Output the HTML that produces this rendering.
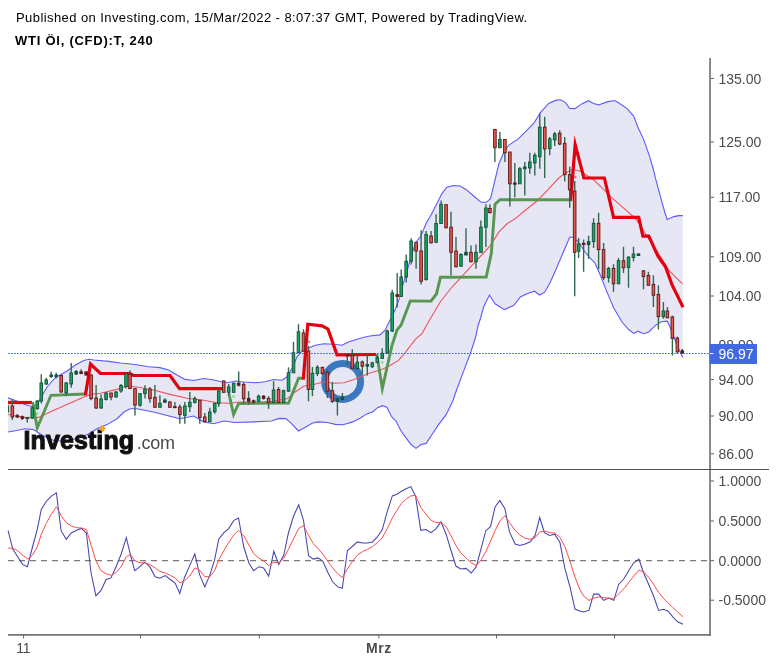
<!DOCTYPE html>
<html><head><meta charset="utf-8"><title>WTI Öl chart</title>
<style>
html,body{margin:0;padding:0;background:#fff}
body{width:776px;height:663px;position:relative;overflow:hidden;font-family:"Liberation Sans",Arial,sans-serif}
.t1{position:absolute;left:16px;top:10px;font-size:13px;line-height:15px;color:#000;white-space:nowrap;letter-spacing:0.42px}
.t2{position:absolute;left:15px;top:33px;font-size:13px;line-height:15px;color:#000;font-weight:bold;white-space:nowrap;letter-spacing:0.75px}
.logo{position:absolute;left:23.5px;top:425px;white-space:nowrap;line-height:30px;color:#111}
.logo b{font-size:25px;letter-spacing:0.1px;font-weight:bold;-webkit-text-stroke:1.05px #111}
.logo span{font-size:18px;color:#4a4a4a;letter-spacing:-0.25px;margin-left:2.5px}
.dot{position:absolute;left:99.5px;top:426px;width:4.6px;height:4.6px;background:#f7a21b;transform:rotate(30deg)}
</style></head><body>
<svg width="776" height="663" viewBox="0 0 776 663" style="position:absolute;left:0;top:0">
<defs><clipPath id="cm"><rect x="8" y="57" width="702" height="412"/></clipPath></defs>
<g clip-path="url(#cm)">
<polygon points="8.0,397.8 16.8,401.0 25.0,404.5 32.7,406.7 37.2,404.5 41.9,396.0 47.0,387.0 55.3,377.7 67.0,371.0 75.4,365.0 83.8,360.4 88.8,359.3 93.8,360.0 108.9,361.4 120.6,363.0 128.4,363.8 136.7,364.8 148.5,366.8 160.0,367.6 168.6,370.0 177.0,375.0 185.0,379.4 193.7,380.5 203.8,378.5 213.8,380.0 220.5,381.5 227.0,382.7 235.6,381.0 243.0,382.0 256.7,382.8 265.0,381.7 273.5,379.5 281.9,380.3 286.9,377.0 292.0,368.6 297.0,356.9 302.0,351.0 307.0,348.5 315.4,345.2 323.8,343.8 333.8,344.3 342.0,345.2 348.9,341.8 357.3,339.3 363.0,337.5 370.0,336.0 380.0,334.9 385.0,330.2 390.0,320.2 395.0,310.0 399.4,298.4 401.7,288.8 406.8,272.0 411.8,253.7 416.0,242.0 421.0,236.0 426.0,223.5 431.0,215.0 436.9,203.6 441.9,193.6 446.9,187.2 453.6,185.5 460.3,186.0 467.0,190.2 473.7,196.0 481.2,202.3 486.3,202.3 490.5,198.6 493.8,185.2 498.8,164.0 503.7,152.8 508.5,145.3 518.6,138.6 527.0,130.2 533.7,123.5 540.4,112.6 548.7,103.4 555.4,100.4 560.5,99.7 565.5,102.6 569.7,108.4 575.0,108.6 581.7,103.9 588.4,100.7 593.5,103.6 598.5,104.9 606.9,101.9 614.4,100.5 618.6,102.7 627.0,108.6 633.7,116.1 637.8,127.0 643.7,139.6 649.6,156.3 653.8,171.0 655.5,178.4 660.5,196.9 664.7,212.0 667.2,219.5 673.9,216.6 678.9,215.6 682.8,215.6 682.8,357.5 678.9,349.6 673.9,337.0 669.7,326.2 667.2,321.2 661.3,321.7 655.5,325.4 648.8,332.0 643.7,333.7 637.9,331.2 633.7,333.4 628.7,329.5 622.0,322.0 613.6,307.8 606.9,291.9 601.0,276.8 595.0,263.0 590.0,258.0 585.0,252.0 578.4,242.0 573.0,237.3 569.7,237.3 563.8,251.0 557.0,267.0 550.4,282.0 544.5,292.4 539.5,295.0 534.5,291.2 527.0,293.7 520.3,297.0 513.6,305.5 504.3,309.6 495.0,303.8 489.5,295.0 486.0,302.0 483.4,307.5 480.6,318.0 478.0,326.0 475.6,337.0 470.6,352.8 463.9,370.4 457.0,388.8 453.0,400.5 446.3,414.4 438.7,424.4 432.0,434.5 426.2,443.4 421.0,444.5 416.0,448.4 411.0,444.5 406.0,437.8 401.0,431.0 396.0,421.0 391.8,416.9 386.8,407.2 382.6,405.7 377.6,407.7 372.6,411.9 366.7,413.9 360.4,418.0 352.7,421.9 343.0,424.8 335.3,424.4 327.5,422.5 317.8,421.9 312.0,423.3 306.2,426.8 298.5,431.0 290.8,422.9 286.0,418.6 279.2,418.4 271.4,421.0 254.0,421.9 234.7,422.5 223.9,421.0 213.8,423.8 203.8,422.0 193.7,416.0 180.0,418.7 170.0,416.2 153.5,412.0 136.7,408.7 130.0,408.7 124.0,412.0 117.0,418.7 107.0,424.6 97.0,428.8 88.0,434.2 78.0,438.0 70.0,440.2 62.0,441.0 55.0,440.8 48.6,438.8 40.0,433.8 33.5,429.6 25.0,428.8 16.8,430.5 8.0,432.0" fill="#e6e6f4"/>
<circle cx="342.6" cy="381.4" r="18" fill="none" stroke="#3b78bf" stroke-width="7"/>
<polyline points="8.0,397.8 16.8,401.0 25.0,404.5 32.7,406.7 37.2,404.5 41.9,396.0 47.0,387.0 55.3,377.7 67.0,371.0 75.4,365.0 83.8,360.4 88.8,359.3 93.8,360.0 108.9,361.4 120.6,363.0 128.4,363.8 136.7,364.8 148.5,366.8 160.0,367.6 168.6,370.0 177.0,375.0 185.0,379.4 193.7,380.5 203.8,378.5 213.8,380.0 220.5,381.5 227.0,382.7 235.6,381.0 243.0,382.0 256.7,382.8 265.0,381.7 273.5,379.5 281.9,380.3 286.9,377.0 292.0,368.6 297.0,356.9 302.0,351.0 307.0,348.5 315.4,345.2 323.8,343.8 333.8,344.3 342.0,345.2 348.9,341.8 357.3,339.3 363.0,337.5 370.0,336.0 380.0,334.9 385.0,330.2 390.0,320.2 395.0,310.0 399.4,298.4 401.7,288.8 406.8,272.0 411.8,253.7 416.0,242.0 421.0,236.0 426.0,223.5 431.0,215.0 436.9,203.6 441.9,193.6 446.9,187.2 453.6,185.5 460.3,186.0 467.0,190.2 473.7,196.0 481.2,202.3 486.3,202.3 490.5,198.6 493.8,185.2 498.8,164.0 503.7,152.8 508.5,145.3 518.6,138.6 527.0,130.2 533.7,123.5 540.4,112.6 548.7,103.4 555.4,100.4 560.5,99.7 565.5,102.6 569.7,108.4 575.0,108.6 581.7,103.9 588.4,100.7 593.5,103.6 598.5,104.9 606.9,101.9 614.4,100.5 618.6,102.7 627.0,108.6 633.7,116.1 637.8,127.0 643.7,139.6 649.6,156.3 653.8,171.0 655.5,178.4 660.5,196.9 664.7,212.0 667.2,219.5 673.9,216.6 678.9,215.6 682.8,215.6" fill="none" stroke="#5a5aff" stroke-width="1.1"/>
<polyline points="8.0,432.0 16.8,430.5 25.0,428.8 33.5,429.6 40.0,433.8 48.6,438.8 55.0,440.8 62.0,441.0 70.0,440.2 78.0,438.0 88.0,434.2 97.0,428.8 107.0,424.6 117.0,418.7 124.0,412.0 130.0,408.7 136.7,408.7 153.5,412.0 170.0,416.2 180.0,418.7 193.7,416.0 203.8,422.0 213.8,423.8 223.9,421.0 234.7,422.5 254.0,421.9 271.4,421.0 279.2,418.4 286.0,418.6 290.8,422.9 298.5,431.0 306.2,426.8 312.0,423.3 317.8,421.9 327.5,422.5 335.3,424.4 343.0,424.8 352.7,421.9 360.4,418.0 366.7,413.9 372.6,411.9 377.6,407.7 382.6,405.7 386.8,407.2 391.8,416.9 396.0,421.0 401.0,431.0 406.0,437.8 411.0,444.5 416.0,448.4 421.0,444.5 426.2,443.4 432.0,434.5 438.7,424.4 446.3,414.4 453.0,400.5 457.0,388.8 463.9,370.4 470.6,352.8 475.6,337.0 478.0,326.0 480.6,318.0 483.4,307.5 486.0,302.0 489.5,295.0 495.0,303.8 504.3,309.6 513.6,305.5 520.3,297.0 527.0,293.7 534.5,291.2 539.5,295.0 544.5,292.4 550.4,282.0 557.0,267.0 563.8,251.0 569.7,237.3 573.0,237.3 578.4,242.0 585.0,252.0 590.0,258.0 595.0,263.0 601.0,276.8 606.9,291.9 613.6,307.8 622.0,322.0 628.7,329.5 633.7,333.4 637.9,331.2 643.7,333.7 648.8,332.0 655.5,325.4 661.3,321.7 667.2,321.2 669.7,326.2 673.9,337.0 678.9,349.6 682.8,357.5" fill="none" stroke="#5a5aff" stroke-width="1.1"/>
<polyline points="8.0,414.5 16.8,416.2 25.0,417.4 33.5,418.0 38.5,417.4 50.0,412.0 67.0,404.5 83.8,397.0 91.0,394.4 100.5,393.3 117.0,389.4 128.0,386.0 136.7,387.0 153.5,390.0 170.0,394.4 187.0,398.3 203.8,400.3 217.0,402.8 229.0,403.3 240.0,402.0 256.7,402.4 273.5,401.3 287.0,398.8 295.0,392.0 303.6,386.2 313.7,384.5 323.8,382.0 333.8,383.3 343.9,382.8 354.0,379.5 360.0,377.0 370.0,373.0 381.8,369.6 390.0,365.4 398.5,360.4 405.0,352.8 415.3,339.4 422.0,333.6 430.0,319.3 440.4,301.7 452.0,287.0 462.0,276.3 472.0,265.4 482.2,254.5 490.5,245.3 499.0,231.9 507.3,223.5 515.0,218.8 525.0,210.5 537.0,201.0 548.7,188.8 558.8,178.0 565.5,173.0 572.2,169.6 575.0,170.0 580.6,171.2 585.0,174.2 593.5,179.8 603.6,189.3 613.6,199.4 623.7,208.2 633.7,217.0 638.7,222.8 645.4,233.7 657.0,251.0 668.9,270.4 682.3,283.8" fill="none" stroke="#ee5560" stroke-width="1.1"/>
<line x1="8" y1="353.5" x2="710" y2="353.5" stroke="#4169e1" stroke-width="1.1" stroke-dasharray="1.7,1.3"/>
<polyline points="8.0,402.5 32.0,402.5" fill="none" stroke="#e4000f" stroke-width="3.2" stroke-linejoin="miter" stroke-miterlimit="12"/>
<polyline points="32.7,402.0 37.2,428.0 51.0,395.3 85.4,394.0" fill="none" stroke="#57974f" stroke-width="2.9" stroke-linejoin="miter" stroke-miterlimit="12"/>
<polyline points="85.4,395.3 90.5,364.0 100.5,373.5 130.0,373.5 133.4,375.5 170.0,375.5 179.5,388.6 223.5,388.6" fill="none" stroke="#e4000f" stroke-width="3.2" stroke-linejoin="miter" stroke-miterlimit="12"/>
<polyline points="228.9,393.6 233.6,414.5 238.6,403.6 288.6,403.0 298.6,378.3 303.6,378.3" fill="none" stroke="#57974f" stroke-width="2.9" stroke-linejoin="miter" stroke-miterlimit="12"/>
<polyline points="303.3,379.5 307.8,324.2 322.0,325.9 328.0,329.2 337.0,354.9 376.0,354.5" fill="none" stroke="#e4000f" stroke-width="3.2" stroke-linejoin="miter" stroke-miterlimit="12"/>
<polyline points="376.8,354.5 382.3,388.5 391.8,346.1 396.9,330.2 401.0,325.2 410.3,301.0 431.0,301.1 436.4,294.0 440.5,277.2 486.2,277.1 491.3,253.5 495.0,204.3 500.0,199.7 569.5,199.7" fill="none" stroke="#57974f" stroke-width="2.9" stroke-linejoin="miter" stroke-miterlimit="12"/>
<polyline points="570.6,201.0 575.2,144.8 583.9,178.0 604.4,178.0 613.6,217.3 638.7,217.3 642.9,236.2 648.8,236.2 658.0,256.3 665.5,266.7 672.2,285.2 678.0,296.9 683.0,307.3" fill="none" stroke="#e4000f" stroke-width="3.2" stroke-linejoin="miter" stroke-miterlimit="12"/>
<rect x="36.0" y="412.4" width="2.4" height="2.4" fill="#7fe38a"/>
<rect x="232.4" y="395.2" width="2.4" height="2.4" fill="#7fe38a"/>
<rect x="381.1" y="361.3" width="2.4" height="2.4" fill="#7fe38a"/>
<circle cx="575.2" cy="177.0" r="1.3" fill="#f06a6a"/>
<circle cx="308.9" cy="341.8" r="1.3" fill="#f06a6a"/>
<line x1="7.4" y1="404.0" x2="7.4" y2="414.0" stroke="#33684f" stroke-width="1.4"/>
<rect x="6.06" y="406.0" width="2.6" height="6.0" fill="#16a562" stroke="#15543a" stroke-width="0.95"/>
<line x1="12.3" y1="399.5" x2="12.3" y2="420.0" stroke="#33684f" stroke-width="1.4"/>
<rect x="11.05" y="406.0" width="2.6" height="11.0" fill="#e8594f" stroke="#5e1a1a" stroke-width="0.95"/>
<line x1="17.3" y1="414.0" x2="17.3" y2="418.0" stroke="#33684f" stroke-width="1.4"/>
<rect x="16.04" y="415.7" width="2.6" height="1.3" fill="#5e1a1a" stroke="#5e1a1a" stroke-width="0.95"/>
<line x1="22.3" y1="415.4" x2="22.3" y2="420.0" stroke="#33684f" stroke-width="1.4"/>
<rect x="21.02" y="416.7" width="2.6" height="1.7" fill="#5e1a1a" stroke="#5e1a1a" stroke-width="0.95"/>
<line x1="27.3" y1="417.0" x2="27.3" y2="422.4" stroke="#33684f" stroke-width="1.4"/>
<rect x="26.00" y="417.4" width="2.6" height="1.0" fill="#15543a" stroke="#15543a" stroke-width="0.95"/>
<line x1="32.3" y1="406.0" x2="32.3" y2="418.7" stroke="#33684f" stroke-width="1.4"/>
<rect x="30.99" y="407.8" width="2.6" height="10.1" fill="#16a562" stroke="#15543a" stroke-width="0.95"/>
<line x1="37.3" y1="400.3" x2="37.3" y2="409.5" stroke="#33684f" stroke-width="1.4"/>
<rect x="35.98" y="401.0" width="2.6" height="7.7" fill="#16a562" stroke="#15543a" stroke-width="0.95"/>
<line x1="41.3" y1="374.3" x2="41.3" y2="403.6" stroke="#33684f" stroke-width="1.4"/>
<rect x="39.96" y="383.0" width="2.6" height="18.0" fill="#16a562" stroke="#15543a" stroke-width="0.95"/>
<line x1="46.2" y1="377.7" x2="46.2" y2="385.0" stroke="#33684f" stroke-width="1.4"/>
<rect x="44.95" y="380.0" width="2.6" height="4.0" fill="#16a562" stroke="#15543a" stroke-width="0.95"/>
<line x1="51.2" y1="371.8" x2="51.2" y2="378.0" stroke="#33684f" stroke-width="1.4"/>
<rect x="49.93" y="375.0" width="2.6" height="1.5" fill="#15543a" stroke="#15543a" stroke-width="0.95"/>
<line x1="56.2" y1="372.7" x2="56.2" y2="378.5" stroke="#33684f" stroke-width="1.4"/>
<rect x="54.92" y="375.0" width="2.6" height="1.5" fill="#15543a" stroke="#15543a" stroke-width="0.95"/>
<line x1="61.2" y1="375.0" x2="61.2" y2="392.8" stroke="#33684f" stroke-width="1.4"/>
<rect x="59.90" y="375.5" width="2.6" height="16.5" fill="#e8594f" stroke="#5e1a1a" stroke-width="0.95"/>
<line x1="66.2" y1="381.9" x2="66.2" y2="396.0" stroke="#33684f" stroke-width="1.4"/>
<rect x="64.89" y="383.0" width="2.6" height="9.8" fill="#16a562" stroke="#15543a" stroke-width="0.95"/>
<line x1="71.2" y1="363.0" x2="71.2" y2="387.7" stroke="#33684f" stroke-width="1.4"/>
<rect x="69.87" y="373.0" width="2.6" height="11.0" fill="#16a562" stroke="#15543a" stroke-width="0.95"/>
<line x1="76.2" y1="370.0" x2="76.2" y2="375.0" stroke="#33684f" stroke-width="1.4"/>
<rect x="74.86" y="371.5" width="2.6" height="2.5" fill="#15543a" stroke="#15543a" stroke-width="0.95"/>
<line x1="81.1" y1="369.3" x2="81.1" y2="374.3" stroke="#33684f" stroke-width="1.4"/>
<rect x="79.84" y="371.8" width="2.6" height="1.7" fill="#5e1a1a" stroke="#5e1a1a" stroke-width="0.95"/>
<line x1="86.1" y1="371.0" x2="86.1" y2="375.5" stroke="#33684f" stroke-width="1.4"/>
<rect x="84.83" y="372.0" width="2.6" height="3.0" fill="#5e1a1a" stroke="#5e1a1a" stroke-width="0.95"/>
<line x1="91.1" y1="374.3" x2="91.1" y2="400.3" stroke="#33684f" stroke-width="1.4"/>
<rect x="89.81" y="375.0" width="2.6" height="23.6" fill="#e8594f" stroke="#5e1a1a" stroke-width="0.95"/>
<line x1="96.1" y1="385.0" x2="96.1" y2="409.0" stroke="#33684f" stroke-width="1.4"/>
<rect x="94.80" y="398.0" width="2.6" height="10.0" fill="#e8594f" stroke="#5e1a1a" stroke-width="0.95"/>
<line x1="101.1" y1="394.4" x2="101.1" y2="408.7" stroke="#33684f" stroke-width="1.4"/>
<rect x="99.78" y="399.0" width="2.6" height="9.0" fill="#16a562" stroke="#15543a" stroke-width="0.95"/>
<line x1="106.1" y1="392.3" x2="106.1" y2="400.6" stroke="#33684f" stroke-width="1.4"/>
<rect x="104.77" y="393.0" width="2.6" height="6.5" fill="#16a562" stroke="#15543a" stroke-width="0.95"/>
<line x1="111.1" y1="392.8" x2="111.1" y2="400.3" stroke="#33684f" stroke-width="1.4"/>
<rect x="109.75" y="393.0" width="2.6" height="4.0" fill="#e8594f" stroke="#5e1a1a" stroke-width="0.95"/>
<line x1="116.0" y1="391.0" x2="116.0" y2="397.8" stroke="#33684f" stroke-width="1.4"/>
<rect x="114.74" y="392.0" width="2.6" height="5.0" fill="#16a562" stroke="#15543a" stroke-width="0.95"/>
<line x1="121.0" y1="384.0" x2="121.0" y2="392.8" stroke="#33684f" stroke-width="1.4"/>
<rect x="119.72" y="385.5" width="2.6" height="5.5" fill="#16a562" stroke="#15543a" stroke-width="0.95"/>
<line x1="126.0" y1="372.7" x2="126.0" y2="388.6" stroke="#33684f" stroke-width="1.4"/>
<rect x="124.71" y="373.5" width="2.6" height="13.0" fill="#16a562" stroke="#15543a" stroke-width="0.95"/>
<line x1="130.0" y1="370.5" x2="130.0" y2="389.0" stroke="#33684f" stroke-width="1.4"/>
<rect x="128.70" y="374.3" width="2.6" height="14.3" fill="#e8594f" stroke="#5e1a1a" stroke-width="0.95"/>
<line x1="135.0" y1="388.0" x2="135.0" y2="415.4" stroke="#33684f" stroke-width="1.4"/>
<rect x="133.68" y="388.6" width="2.6" height="16.4" fill="#e8594f" stroke="#5e1a1a" stroke-width="0.95"/>
<line x1="140.0" y1="393.3" x2="140.0" y2="406.7" stroke="#33684f" stroke-width="1.4"/>
<rect x="138.67" y="393.6" width="2.6" height="11.7" fill="#16a562" stroke="#15543a" stroke-width="0.95"/>
<line x1="145.0" y1="385.2" x2="145.0" y2="398.6" stroke="#33684f" stroke-width="1.4"/>
<rect x="143.65" y="389.4" width="2.6" height="4.2" fill="#16a562" stroke="#15543a" stroke-width="0.95"/>
<line x1="149.9" y1="387.0" x2="149.9" y2="402.8" stroke="#33684f" stroke-width="1.4"/>
<rect x="148.64" y="389.0" width="2.6" height="9.6" fill="#e8594f" stroke="#5e1a1a" stroke-width="0.95"/>
<line x1="154.9" y1="385.0" x2="154.9" y2="407.3" stroke="#33684f" stroke-width="1.4"/>
<rect x="153.62" y="397.3" width="2.6" height="10.0" fill="#e8594f" stroke="#5e1a1a" stroke-width="0.95"/>
<line x1="159.9" y1="395.3" x2="159.9" y2="407.3" stroke="#33684f" stroke-width="1.4"/>
<rect x="158.61" y="403.3" width="2.6" height="4.0" fill="#16a562" stroke="#15543a" stroke-width="0.95"/>
<line x1="164.9" y1="398.3" x2="164.9" y2="402.8" stroke="#33684f" stroke-width="1.4"/>
<rect x="163.59" y="400.0" width="2.6" height="2.3" fill="#15543a" stroke="#15543a" stroke-width="0.95"/>
<line x1="169.9" y1="401.0" x2="169.9" y2="407.3" stroke="#33684f" stroke-width="1.4"/>
<rect x="168.58" y="402.0" width="2.6" height="5.3" fill="#e8594f" stroke="#5e1a1a" stroke-width="0.95"/>
<line x1="174.9" y1="402.0" x2="174.9" y2="407.7" stroke="#33684f" stroke-width="1.4"/>
<rect x="173.56" y="406.7" width="2.6" height="1.0" fill="#5e1a1a" stroke="#5e1a1a" stroke-width="0.95"/>
<line x1="179.8" y1="404.5" x2="179.8" y2="423.8" stroke="#33684f" stroke-width="1.4"/>
<rect x="178.55" y="407.0" width="2.6" height="7.5" fill="#e8594f" stroke="#5e1a1a" stroke-width="0.95"/>
<line x1="184.8" y1="402.0" x2="184.8" y2="423.8" stroke="#33684f" stroke-width="1.4"/>
<rect x="183.53" y="406.0" width="2.6" height="9.4" fill="#16a562" stroke="#15543a" stroke-width="0.95"/>
<line x1="189.8" y1="392.0" x2="189.8" y2="412.0" stroke="#33684f" stroke-width="1.4"/>
<rect x="188.52" y="402.3" width="2.6" height="4.4" fill="#16a562" stroke="#15543a" stroke-width="0.95"/>
<line x1="194.8" y1="396.6" x2="194.8" y2="403.6" stroke="#33684f" stroke-width="1.4"/>
<rect x="193.50" y="398.6" width="2.6" height="3.7" fill="#16a562" stroke="#15543a" stroke-width="0.95"/>
<line x1="199.8" y1="399.5" x2="199.8" y2="423.8" stroke="#33684f" stroke-width="1.4"/>
<rect x="198.49" y="400.3" width="2.6" height="17.1" fill="#e8594f" stroke="#5e1a1a" stroke-width="0.95"/>
<line x1="204.8" y1="412.9" x2="204.8" y2="421.7" stroke="#33684f" stroke-width="1.4"/>
<rect x="203.47" y="417.0" width="2.6" height="4.7" fill="#e8594f" stroke="#5e1a1a" stroke-width="0.95"/>
<line x1="209.8" y1="407.8" x2="209.8" y2="421.7" stroke="#33684f" stroke-width="1.4"/>
<rect x="208.46" y="412.0" width="2.6" height="9.7" fill="#16a562" stroke="#15543a" stroke-width="0.95"/>
<line x1="214.7" y1="402.8" x2="214.7" y2="413.7" stroke="#33684f" stroke-width="1.4"/>
<rect x="213.44" y="403.3" width="2.6" height="8.4" fill="#16a562" stroke="#15543a" stroke-width="0.95"/>
<line x1="218.7" y1="389.4" x2="218.7" y2="407.0" stroke="#33684f" stroke-width="1.4"/>
<rect x="217.43" y="391.0" width="2.6" height="12.7" fill="#16a562" stroke="#15543a" stroke-width="0.95"/>
<line x1="223.7" y1="380.2" x2="223.7" y2="392.8" stroke="#33684f" stroke-width="1.4"/>
<rect x="222.41" y="381.0" width="2.6" height="11.3" fill="#e8594f" stroke="#5e1a1a" stroke-width="0.95"/>
<line x1="228.7" y1="383.9" x2="228.7" y2="395.3" stroke="#33684f" stroke-width="1.4"/>
<rect x="227.40" y="387.0" width="2.6" height="5.3" fill="#16a562" stroke="#15543a" stroke-width="0.95"/>
<line x1="233.7" y1="382.7" x2="233.7" y2="392.8" stroke="#33684f" stroke-width="1.4"/>
<rect x="232.38" y="383.2" width="2.6" height="9.1" fill="#16a562" stroke="#15543a" stroke-width="0.95"/>
<line x1="238.7" y1="371.5" x2="238.7" y2="386.6" stroke="#33684f" stroke-width="1.4"/>
<rect x="237.37" y="383.2" width="2.6" height="2.0" fill="#5e1a1a" stroke="#5e1a1a" stroke-width="0.95"/>
<line x1="243.7" y1="382.0" x2="243.7" y2="403.8" stroke="#33684f" stroke-width="1.4"/>
<rect x="242.35" y="384.5" width="2.6" height="14.3" fill="#e8594f" stroke="#5e1a1a" stroke-width="0.95"/>
<line x1="248.6" y1="391.2" x2="248.6" y2="404.6" stroke="#33684f" stroke-width="1.4"/>
<rect x="247.34" y="398.4" width="2.6" height="2.9" fill="#5e1a1a" stroke="#5e1a1a" stroke-width="0.95"/>
<line x1="253.6" y1="399.6" x2="253.6" y2="403.8" stroke="#33684f" stroke-width="1.4"/>
<rect x="252.32" y="400.8" width="2.6" height="1.2" fill="#5e1a1a" stroke="#5e1a1a" stroke-width="0.95"/>
<line x1="258.6" y1="394.6" x2="258.6" y2="402.0" stroke="#33684f" stroke-width="1.4"/>
<rect x="257.31" y="396.2" width="2.6" height="5.1" fill="#16a562" stroke="#15543a" stroke-width="0.95"/>
<line x1="263.6" y1="395.0" x2="263.6" y2="399.6" stroke="#33684f" stroke-width="1.4"/>
<rect x="262.29" y="396.2" width="2.6" height="2.2" fill="#5e1a1a" stroke="#5e1a1a" stroke-width="0.95"/>
<line x1="268.6" y1="396.2" x2="268.6" y2="408.8" stroke="#33684f" stroke-width="1.4"/>
<rect x="267.28" y="398.4" width="2.6" height="4.0" fill="#e8594f" stroke="#5e1a1a" stroke-width="0.95"/>
<line x1="273.6" y1="381.2" x2="273.6" y2="403.0" stroke="#33684f" stroke-width="1.4"/>
<rect x="272.26" y="390.0" width="2.6" height="12.4" fill="#16a562" stroke="#15543a" stroke-width="0.95"/>
<line x1="278.5" y1="387.0" x2="278.5" y2="403.0" stroke="#33684f" stroke-width="1.4"/>
<rect x="277.25" y="389.5" width="2.6" height="12.9" fill="#e8594f" stroke="#5e1a1a" stroke-width="0.95"/>
<line x1="283.5" y1="389.5" x2="283.5" y2="402.4" stroke="#33684f" stroke-width="1.4"/>
<rect x="282.23" y="390.7" width="2.6" height="11.7" fill="#16a562" stroke="#15543a" stroke-width="0.95"/>
<line x1="288.5" y1="367.3" x2="288.5" y2="392.0" stroke="#33684f" stroke-width="1.4"/>
<rect x="287.22" y="372.8" width="2.6" height="18.4" fill="#16a562" stroke="#15543a" stroke-width="0.95"/>
<line x1="293.5" y1="341.8" x2="293.5" y2="372.8" stroke="#33684f" stroke-width="1.4"/>
<rect x="292.20" y="352.7" width="2.6" height="20.1" fill="#16a562" stroke="#15543a" stroke-width="0.95"/>
<line x1="298.5" y1="324.2" x2="298.5" y2="352.7" stroke="#33684f" stroke-width="1.4"/>
<rect x="297.19" y="331.8" width="2.6" height="20.9" fill="#16a562" stroke="#15543a" stroke-width="0.95"/>
<line x1="303.5" y1="329.2" x2="303.5" y2="351.9" stroke="#33684f" stroke-width="1.4"/>
<rect x="302.17" y="333.0" width="2.6" height="18.0" fill="#e8594f" stroke="#5e1a1a" stroke-width="0.95"/>
<line x1="308.5" y1="346.0" x2="308.5" y2="401.3" stroke="#33684f" stroke-width="1.4"/>
<rect x="307.16" y="351.0" width="2.6" height="38.5" fill="#e8594f" stroke="#5e1a1a" stroke-width="0.95"/>
<line x1="312.4" y1="367.0" x2="312.4" y2="396.2" stroke="#33684f" stroke-width="1.4"/>
<rect x="311.15" y="373.3" width="2.6" height="16.2" fill="#16a562" stroke="#15543a" stroke-width="0.95"/>
<line x1="317.4" y1="365.3" x2="317.4" y2="376.1" stroke="#33684f" stroke-width="1.4"/>
<rect x="316.13" y="367.3" width="2.6" height="6.3" fill="#16a562" stroke="#15543a" stroke-width="0.95"/>
<line x1="322.4" y1="367.0" x2="322.4" y2="375.3" stroke="#33684f" stroke-width="1.4"/>
<rect x="321.12" y="367.3" width="2.6" height="6.3" fill="#e8594f" stroke="#5e1a1a" stroke-width="0.95"/>
<line x1="327.4" y1="369.4" x2="327.4" y2="398.0" stroke="#33684f" stroke-width="1.4"/>
<rect x="326.10" y="372.3" width="2.6" height="18.9" fill="#e8594f" stroke="#5e1a1a" stroke-width="0.95"/>
<line x1="332.4" y1="382.0" x2="332.4" y2="403.0" stroke="#33684f" stroke-width="1.4"/>
<rect x="331.09" y="390.7" width="2.6" height="10.6" fill="#e8594f" stroke="#5e1a1a" stroke-width="0.95"/>
<line x1="337.4" y1="397.0" x2="337.4" y2="415.5" stroke="#33684f" stroke-width="1.4"/>
<rect x="336.07" y="398.8" width="2.6" height="2.5" fill="#15543a" stroke="#15543a" stroke-width="0.95"/>
<line x1="342.4" y1="393.0" x2="342.4" y2="400.4" stroke="#33684f" stroke-width="1.4"/>
<rect x="341.06" y="397.0" width="2.6" height="2.6" fill="#15543a" stroke="#15543a" stroke-width="0.95"/>
<line x1="347.3" y1="353.9" x2="347.3" y2="365.3" stroke="#33684f" stroke-width="1.4"/>
<rect x="346.04" y="354.9" width="2.6" height="1.1" fill="#5e1a1a" stroke="#5e1a1a" stroke-width="0.95"/>
<line x1="352.3" y1="349.3" x2="352.3" y2="368.6" stroke="#33684f" stroke-width="1.4"/>
<rect x="351.03" y="355.2" width="2.6" height="13.1" fill="#e8594f" stroke="#5e1a1a" stroke-width="0.95"/>
<line x1="357.3" y1="355.2" x2="357.3" y2="370.3" stroke="#33684f" stroke-width="1.4"/>
<rect x="356.01" y="362.2" width="2.6" height="6.4" fill="#16a562" stroke="#15543a" stroke-width="0.95"/>
<line x1="362.3" y1="360.4" x2="362.3" y2="374.6" stroke="#33684f" stroke-width="1.4"/>
<rect x="361.00" y="362.0" width="2.6" height="4.2" fill="#e8594f" stroke="#5e1a1a" stroke-width="0.95"/>
<line x1="367.3" y1="354.5" x2="367.3" y2="375.4" stroke="#33684f" stroke-width="1.4"/>
<rect x="365.98" y="364.5" width="2.6" height="1.7" fill="#15543a" stroke="#15543a" stroke-width="0.95"/>
<line x1="372.3" y1="361.7" x2="372.3" y2="367.9" stroke="#33684f" stroke-width="1.4"/>
<rect x="370.97" y="362.9" width="2.6" height="3.8" fill="#16a562" stroke="#15543a" stroke-width="0.95"/>
<line x1="377.3" y1="353.7" x2="377.3" y2="362.9" stroke="#33684f" stroke-width="1.4"/>
<rect x="375.95" y="357.8" width="2.6" height="4.6" fill="#16a562" stroke="#15543a" stroke-width="0.95"/>
<line x1="382.2" y1="348.3" x2="382.2" y2="358.7" stroke="#33684f" stroke-width="1.4"/>
<rect x="380.94" y="353.3" width="2.6" height="5.0" fill="#16a562" stroke="#15543a" stroke-width="0.95"/>
<line x1="387.2" y1="329.4" x2="387.2" y2="353.3" stroke="#33684f" stroke-width="1.4"/>
<rect x="385.92" y="331.0" width="2.6" height="22.3" fill="#16a562" stroke="#15543a" stroke-width="0.95"/>
<line x1="392.2" y1="289.7" x2="392.2" y2="331.9" stroke="#33684f" stroke-width="1.4"/>
<rect x="390.91" y="293.0" width="2.6" height="38.0" fill="#16a562" stroke="#15543a" stroke-width="0.95"/>
<line x1="397.2" y1="273.0" x2="397.2" y2="307.6" stroke="#33684f" stroke-width="1.4"/>
<rect x="395.89" y="294.7" width="2.6" height="1.7" fill="#5e1a1a" stroke="#5e1a1a" stroke-width="0.95"/>
<line x1="401.2" y1="269.6" x2="401.2" y2="296.4" stroke="#33684f" stroke-width="1.4"/>
<rect x="399.88" y="277.0" width="2.6" height="19.4" fill="#16a562" stroke="#15543a" stroke-width="0.95"/>
<line x1="406.2" y1="254.5" x2="406.2" y2="282.5" stroke="#33684f" stroke-width="1.4"/>
<rect x="404.87" y="261.2" width="2.6" height="15.8" fill="#16a562" stroke="#15543a" stroke-width="0.95"/>
<line x1="411.2" y1="238.2" x2="411.2" y2="264.5" stroke="#33684f" stroke-width="1.4"/>
<rect x="409.85" y="241.0" width="2.6" height="20.2" fill="#16a562" stroke="#15543a" stroke-width="0.95"/>
<line x1="416.1" y1="242.0" x2="416.1" y2="268.7" stroke="#33684f" stroke-width="1.4"/>
<rect x="414.84" y="242.3" width="2.6" height="8.7" fill="#e8594f" stroke="#5e1a1a" stroke-width="0.95"/>
<line x1="421.1" y1="230.2" x2="421.1" y2="284.6" stroke="#33684f" stroke-width="1.4"/>
<rect x="419.82" y="251.0" width="2.6" height="30.3" fill="#e8594f" stroke="#5e1a1a" stroke-width="0.95"/>
<line x1="426.1" y1="231.0" x2="426.1" y2="280.5" stroke="#33684f" stroke-width="1.4"/>
<rect x="424.81" y="234.4" width="2.6" height="45.2" fill="#16a562" stroke="#15543a" stroke-width="0.95"/>
<line x1="431.1" y1="231.0" x2="431.1" y2="243.6" stroke="#33684f" stroke-width="1.4"/>
<rect x="429.79" y="236.0" width="2.6" height="6.8" fill="#e8594f" stroke="#5e1a1a" stroke-width="0.95"/>
<line x1="436.1" y1="214.3" x2="436.1" y2="242.8" stroke="#33684f" stroke-width="1.4"/>
<rect x="434.78" y="223.5" width="2.6" height="18.8" fill="#16a562" stroke="#15543a" stroke-width="0.95"/>
<line x1="441.1" y1="200.4" x2="441.1" y2="223.5" stroke="#33684f" stroke-width="1.4"/>
<rect x="439.76" y="204.2" width="2.6" height="19.3" fill="#16a562" stroke="#15543a" stroke-width="0.95"/>
<line x1="446.0" y1="204.2" x2="446.0" y2="228.5" stroke="#33684f" stroke-width="1.4"/>
<rect x="444.75" y="204.7" width="2.6" height="23.0" fill="#e8594f" stroke="#5e1a1a" stroke-width="0.95"/>
<line x1="451.0" y1="211.8" x2="451.0" y2="275.4" stroke="#33684f" stroke-width="1.4"/>
<rect x="449.73" y="227.2" width="2.6" height="25.1" fill="#e8594f" stroke="#5e1a1a" stroke-width="0.95"/>
<line x1="456.0" y1="237.0" x2="456.0" y2="267.4" stroke="#33684f" stroke-width="1.4"/>
<rect x="454.72" y="251.0" width="2.6" height="15.7" fill="#e8594f" stroke="#5e1a1a" stroke-width="0.95"/>
<line x1="461.0" y1="253.3" x2="461.0" y2="266.7" stroke="#33684f" stroke-width="1.4"/>
<rect x="459.70" y="254.5" width="2.6" height="11.7" fill="#16a562" stroke="#15543a" stroke-width="0.95"/>
<line x1="466.0" y1="228.2" x2="466.0" y2="255.3" stroke="#33684f" stroke-width="1.4"/>
<rect x="464.69" y="252.3" width="2.6" height="2.7" fill="#15543a" stroke="#15543a" stroke-width="0.95"/>
<line x1="471.0" y1="245.6" x2="471.0" y2="262.4" stroke="#33684f" stroke-width="1.4"/>
<rect x="469.67" y="252.3" width="2.6" height="9.4" fill="#e8594f" stroke="#5e1a1a" stroke-width="0.95"/>
<line x1="476.0" y1="244.4" x2="476.0" y2="268.7" stroke="#33684f" stroke-width="1.4"/>
<rect x="474.66" y="252.3" width="2.6" height="9.4" fill="#16a562" stroke="#15543a" stroke-width="0.95"/>
<line x1="480.9" y1="220.5" x2="480.9" y2="252.8" stroke="#33684f" stroke-width="1.4"/>
<rect x="479.64" y="227.2" width="2.6" height="25.1" fill="#16a562" stroke="#15543a" stroke-width="0.95"/>
<line x1="485.9" y1="204.2" x2="485.9" y2="247.0" stroke="#33684f" stroke-width="1.4"/>
<rect x="484.62" y="208.0" width="2.6" height="19.2" fill="#16a562" stroke="#15543a" stroke-width="0.95"/>
<line x1="489.9" y1="204.2" x2="489.9" y2="213.5" stroke="#33684f" stroke-width="1.4"/>
<rect x="488.61" y="208.4" width="2.6" height="4.2" fill="#e8594f" stroke="#5e1a1a" stroke-width="0.95"/>
<line x1="494.9" y1="129.4" x2="494.9" y2="162.0" stroke="#33684f" stroke-width="1.4"/>
<rect x="493.60" y="129.4" width="2.6" height="18.4" fill="#e8594f" stroke="#5e1a1a" stroke-width="0.95"/>
<line x1="499.9" y1="131.9" x2="499.9" y2="147.8" stroke="#33684f" stroke-width="1.4"/>
<rect x="498.58" y="139.4" width="2.6" height="8.4" fill="#16a562" stroke="#15543a" stroke-width="0.95"/>
<line x1="504.9" y1="139.4" x2="504.9" y2="162.0" stroke="#33684f" stroke-width="1.4"/>
<rect x="503.57" y="139.4" width="2.6" height="13.4" fill="#e8594f" stroke="#5e1a1a" stroke-width="0.95"/>
<line x1="509.9" y1="152.0" x2="509.9" y2="206.6" stroke="#33684f" stroke-width="1.4"/>
<rect x="508.55" y="152.0" width="2.6" height="31.8" fill="#e8594f" stroke="#5e1a1a" stroke-width="0.95"/>
<line x1="514.8" y1="162.9" x2="514.8" y2="197.2" stroke="#33684f" stroke-width="1.4"/>
<rect x="513.54" y="183.0" width="2.6" height="1.2" fill="#5e1a1a" stroke="#5e1a1a" stroke-width="0.95"/>
<line x1="519.8" y1="167.0" x2="519.8" y2="183.8" stroke="#33684f" stroke-width="1.4"/>
<rect x="518.52" y="168.7" width="2.6" height="15.1" fill="#16a562" stroke="#15543a" stroke-width="0.95"/>
<line x1="524.8" y1="162.0" x2="524.8" y2="195.5" stroke="#33684f" stroke-width="1.4"/>
<rect x="523.51" y="167.0" width="2.6" height="1.7" fill="#15543a" stroke="#15543a" stroke-width="0.95"/>
<line x1="529.8" y1="152.8" x2="529.8" y2="173.8" stroke="#33684f" stroke-width="1.4"/>
<rect x="528.49" y="162.0" width="2.6" height="5.9" fill="#16a562" stroke="#15543a" stroke-width="0.95"/>
<line x1="534.8" y1="152.8" x2="534.8" y2="175.4" stroke="#33684f" stroke-width="1.4"/>
<rect x="533.48" y="155.3" width="2.6" height="7.6" fill="#16a562" stroke="#15543a" stroke-width="0.95"/>
<line x1="539.8" y1="113.5" x2="539.8" y2="168.7" stroke="#33684f" stroke-width="1.4"/>
<rect x="538.46" y="127.2" width="2.6" height="29.5" fill="#16a562" stroke="#15543a" stroke-width="0.95"/>
<line x1="544.7" y1="116.8" x2="544.7" y2="178.0" stroke="#33684f" stroke-width="1.4"/>
<rect x="543.45" y="127.2" width="2.6" height="21.8" fill="#e8594f" stroke="#5e1a1a" stroke-width="0.95"/>
<line x1="549.7" y1="136.9" x2="549.7" y2="155.3" stroke="#33684f" stroke-width="1.4"/>
<rect x="548.43" y="138.9" width="2.6" height="9.7" fill="#16a562" stroke="#15543a" stroke-width="0.95"/>
<line x1="554.7" y1="131.9" x2="554.7" y2="146.0" stroke="#33684f" stroke-width="1.4"/>
<rect x="553.42" y="133.9" width="2.6" height="6.0" fill="#16a562" stroke="#15543a" stroke-width="0.95"/>
<line x1="559.7" y1="130.2" x2="559.7" y2="145.3" stroke="#33684f" stroke-width="1.4"/>
<rect x="558.40" y="133.2" width="2.6" height="10.8" fill="#e8594f" stroke="#5e1a1a" stroke-width="0.95"/>
<line x1="564.7" y1="136.9" x2="564.7" y2="181.5" stroke="#33684f" stroke-width="1.4"/>
<rect x="563.39" y="143.3" width="2.6" height="31.3" fill="#e8594f" stroke="#5e1a1a" stroke-width="0.95"/>
<line x1="569.7" y1="166.7" x2="569.7" y2="207.7" stroke="#33684f" stroke-width="1.4"/>
<rect x="568.37" y="174.7" width="2.6" height="15.1" fill="#e8594f" stroke="#5e1a1a" stroke-width="0.95"/>
<line x1="574.7" y1="181.0" x2="574.7" y2="296.3" stroke="#33684f" stroke-width="1.4"/>
<rect x="573.36" y="191.0" width="2.6" height="61.3" fill="#e8594f" stroke="#5e1a1a" stroke-width="0.95"/>
<line x1="578.6" y1="237.9" x2="578.6" y2="258.0" stroke="#33684f" stroke-width="1.4"/>
<rect x="577.35" y="243.8" width="2.6" height="7.5" fill="#16a562" stroke="#15543a" stroke-width="0.95"/>
<line x1="583.6" y1="239.6" x2="583.6" y2="271.8" stroke="#33684f" stroke-width="1.4"/>
<rect x="582.33" y="243.3" width="2.6" height="1.3" fill="#5e1a1a" stroke="#5e1a1a" stroke-width="0.95"/>
<line x1="588.6" y1="235.7" x2="588.6" y2="258.9" stroke="#33684f" stroke-width="1.4"/>
<rect x="587.32" y="241.6" width="2.6" height="3.0" fill="#15543a" stroke="#15543a" stroke-width="0.95"/>
<line x1="593.6" y1="218.3" x2="593.6" y2="248.0" stroke="#33684f" stroke-width="1.4"/>
<rect x="592.30" y="223.3" width="2.6" height="18.3" fill="#16a562" stroke="#15543a" stroke-width="0.95"/>
<line x1="598.6" y1="212.8" x2="598.6" y2="269.2" stroke="#33684f" stroke-width="1.4"/>
<rect x="597.29" y="223.3" width="2.6" height="26.3" fill="#e8594f" stroke="#5e1a1a" stroke-width="0.95"/>
<line x1="603.6" y1="243.0" x2="603.6" y2="280.0" stroke="#33684f" stroke-width="1.4"/>
<rect x="602.27" y="249.6" width="2.6" height="28.0" fill="#e8594f" stroke="#5e1a1a" stroke-width="0.95"/>
<line x1="608.6" y1="266.8" x2="608.6" y2="282.6" stroke="#33684f" stroke-width="1.4"/>
<rect x="607.26" y="268.4" width="2.6" height="9.2" fill="#16a562" stroke="#15543a" stroke-width="0.95"/>
<line x1="613.5" y1="264.2" x2="613.5" y2="291.9" stroke="#33684f" stroke-width="1.4"/>
<rect x="612.24" y="268.4" width="2.6" height="15.4" fill="#e8594f" stroke="#5e1a1a" stroke-width="0.95"/>
<line x1="618.5" y1="258.0" x2="618.5" y2="283.8" stroke="#33684f" stroke-width="1.4"/>
<rect x="617.23" y="260.7" width="2.6" height="23.1" fill="#16a562" stroke="#15543a" stroke-width="0.95"/>
<line x1="623.5" y1="246.8" x2="623.5" y2="273.0" stroke="#33684f" stroke-width="1.4"/>
<rect x="622.21" y="260.7" width="2.6" height="7.1" fill="#e8594f" stroke="#5e1a1a" stroke-width="0.95"/>
<line x1="628.5" y1="256.3" x2="628.5" y2="287.7" stroke="#33684f" stroke-width="1.4"/>
<rect x="627.20" y="257.1" width="2.6" height="10.4" fill="#16a562" stroke="#15543a" stroke-width="0.95"/>
<line x1="633.5" y1="246.8" x2="633.5" y2="261.5" stroke="#33684f" stroke-width="1.4"/>
<rect x="632.18" y="254.1" width="2.6" height="3.4" fill="#16a562" stroke="#15543a" stroke-width="0.95"/>
<line x1="638.5" y1="253.0" x2="638.5" y2="256.0" stroke="#33684f" stroke-width="1.4"/>
<rect x="637.17" y="254.0" width="2.6" height="1.5" fill="#15543a" stroke="#15543a" stroke-width="0.95"/>
<line x1="643.5" y1="270.0" x2="643.5" y2="289.3" stroke="#33684f" stroke-width="1.4"/>
<rect x="642.15" y="270.9" width="2.6" height="5.5" fill="#e8594f" stroke="#5e1a1a" stroke-width="0.95"/>
<line x1="648.4" y1="271.8" x2="648.4" y2="286.0" stroke="#33684f" stroke-width="1.4"/>
<rect x="647.14" y="275.4" width="2.6" height="9.8" fill="#e8594f" stroke="#5e1a1a" stroke-width="0.95"/>
<line x1="653.4" y1="275.4" x2="653.4" y2="307.0" stroke="#33684f" stroke-width="1.4"/>
<rect x="652.12" y="284.3" width="2.6" height="10.9" fill="#e8594f" stroke="#5e1a1a" stroke-width="0.95"/>
<line x1="658.4" y1="285.2" x2="658.4" y2="329.5" stroke="#33684f" stroke-width="1.4"/>
<rect x="657.11" y="294.4" width="2.6" height="22.2" fill="#e8594f" stroke="#5e1a1a" stroke-width="0.95"/>
<line x1="663.4" y1="302.0" x2="663.4" y2="318.7" stroke="#33684f" stroke-width="1.4"/>
<rect x="662.09" y="311.0" width="2.6" height="5.6" fill="#16a562" stroke="#15543a" stroke-width="0.95"/>
<line x1="667.4" y1="307.0" x2="667.4" y2="318.3" stroke="#33684f" stroke-width="1.4"/>
<rect x="666.08" y="311.0" width="2.6" height="6.8" fill="#e8594f" stroke="#5e1a1a" stroke-width="0.95"/>
<line x1="672.4" y1="315.6" x2="672.4" y2="355.5" stroke="#33684f" stroke-width="1.4"/>
<rect x="671.06" y="317.0" width="2.6" height="21.4" fill="#e8594f" stroke="#5e1a1a" stroke-width="0.95"/>
<line x1="677.3" y1="336.7" x2="677.3" y2="353.8" stroke="#33684f" stroke-width="1.4"/>
<rect x="676.05" y="338.0" width="2.6" height="13.8" fill="#e8594f" stroke="#5e1a1a" stroke-width="0.95"/>
<line x1="682.3" y1="349.0" x2="682.3" y2="353.8" stroke="#33684f" stroke-width="1.4"/>
<rect x="681.03" y="350.8" width="2.6" height="2.2" fill="#5e1a1a" stroke="#5e1a1a" stroke-width="0.95"/>
</g>
<line x1="8" y1="560.5" x2="710" y2="560.5" stroke="#7a7a7a" stroke-width="1.25" stroke-dasharray="6,5"/>
<polyline points="8.1,530.7 12.8,549.3 17.4,556.3 22.5,564.4 27.4,566.7 32.5,547.0 37.2,529.6 41.3,509.4 46.0,501.7 51.1,496.4 56.4,492.9 61.1,530.7 66.2,539.3 71.3,533.0 76.6,530.3 81.3,528.4 86.4,533.0 91.0,572.5 95.9,595.8 101.0,590.4 106.1,579.5 111.0,577.9 116.1,566.7 121.2,554.0 126.3,537.7 130.5,555.1 134.7,570.7 140.0,566.7 144.7,562.1 149.8,566.7 155.1,576.7 159.8,578.3 165.4,575.6 170.2,579.5 175.1,583.0 179.8,593.4 184.6,577.2 189.7,565.6 194.8,554.0 199.7,574.9 204.8,586.9 209.9,574.9 214.6,559.8 218.8,538.9 223.9,532.6 228.5,528.9 233.9,520.3 238.5,518.0 243.8,547.0 249.0,563.2 253.6,570.7 258.9,566.7 263.6,567.9 268.7,576.0 273.8,551.2 278.7,564.4 283.8,555.1 288.4,533.0 293.5,516.3 298.7,504.7 303.5,520.3 308.6,555.8 313.3,559.1 318.2,557.9 322.8,561.4 327.9,572.5 332.6,581.8 337.7,586.9 342.3,588.3 347.4,550.5 352.3,546.5 357.4,541.9 362.5,543.0 367.4,543.0 372.5,541.9 377.2,537.2 382.3,529.6 387.1,512.2 392.3,495.9 396.9,494.3 401.5,491.3 406.7,488.5 410.8,486.6 415.5,495.9 420.8,530.3 425.9,529.6 431.0,532.6 435.9,528.9 441.0,521.9 446.1,534.2 451.0,550.5 456.1,566.3 460.8,569.0 466.1,568.4 471.2,573.0 476.3,566.7 481.2,548.2 485.8,530.7 490.5,526.6 495.1,507.0 499.8,500.5 504.9,508.7 509.5,531.9 515.1,544.0 519.8,545.4 525.1,544.0 530.2,541.7 535.1,535.4 539.7,517.5 544.4,532.6 549.5,535.4 554.6,534.2 559.9,542.3 565.0,569.0 569.9,586.5 575.0,609.0 579.7,610.9 583.8,612.0 589.0,610.2 593.6,594.1 598.7,594.1 603.6,600.4 608.7,598.1 613.8,600.4 618.7,584.2 623.8,579.0 628.9,570.2 633.8,562.8 638.9,559.1 643.5,572.5 648.6,584.2 653.5,595.8 658.6,610.4 663.3,609.2 667.9,610.9 672.6,616.7 677.7,621.8 683.0,624.3" fill="none" stroke="#4444b0" stroke-width="1.05"/>
<polyline points="8.1,548.2 12.8,548.2 17.4,550.5 22.5,555.1 27.9,559.1 32.5,555.1 37.2,547.0 41.3,534.2 46.0,523.8 51.1,514.5 56.4,506.8 61.1,515.6 66.2,522.6 71.3,526.1 76.6,527.7 81.3,528.0 86.4,529.6 91.0,544.7 95.9,560.9 101.0,570.7 106.1,573.7 111.0,575.3 116.1,572.5 121.2,566.7 126.3,556.7 130.5,554.4 134.7,560.5 140.0,562.8 144.7,562.8 149.8,564.4 155.1,567.9 159.8,571.4 165.4,573.0 170.2,575.3 175.1,577.9 179.8,583.0 184.6,580.7 189.7,576.0 194.8,567.9 199.7,570.2 204.8,576.7 209.9,576.7 214.6,570.7 218.8,559.8 223.9,550.5 228.5,542.8 233.9,534.9 238.5,530.3 243.8,535.8 249.0,545.1 253.6,553.5 258.9,558.1 263.6,560.9 268.7,565.6 273.8,562.1 278.7,562.8 283.8,558.1 288.4,549.3 293.5,538.9 298.7,528.4 303.5,525.6 308.6,535.4 313.3,543.5 318.2,548.9 322.8,554.0 327.9,561.4 332.6,567.9 337.7,573.7 342.3,577.5 347.4,569.0 352.3,561.6 357.4,555.1 362.5,551.6 367.4,549.3 372.5,546.5 377.2,542.8 382.3,537.7 387.1,528.9 392.3,518.0 396.9,510.3 401.5,503.3 406.7,498.7 410.8,495.9 415.5,495.4 420.8,507.5 425.9,514.0 431.0,520.3 435.9,522.6 441.0,522.6 446.1,526.6 451.0,535.8 456.1,545.8 460.8,552.8 466.1,558.1 471.2,562.8 476.3,565.6 481.2,559.8 485.8,551.6 490.5,541.2 495.1,530.7 499.8,521.0 504.9,515.6 509.5,522.6 515.1,530.3 519.8,534.9 525.1,538.2 530.2,539.3 535.1,537.7 539.7,531.9 544.4,531.2 549.5,532.4 554.6,533.0 559.9,537.2 565.0,547.0 569.9,560.9 575.0,577.2 579.7,589.3 583.8,596.2 589.0,600.4 593.6,598.1 598.7,596.9 603.6,597.6 608.7,598.1 613.8,598.8 618.7,593.9 623.8,588.8 628.9,582.3 633.8,576.0 638.9,570.2 643.5,571.8 648.6,577.2 653.5,584.2 658.6,592.3 663.3,598.1 667.9,602.7 672.6,607.4 677.7,612.0 683.0,616.7" fill="none" stroke="#ff4a4a" stroke-width="1"/>
<line x1="710.05" y1="58" x2="710.05" y2="635.7" stroke="#757575" stroke-width="1.7"/>
<line x1="8" y1="469.5" x2="769" y2="469.5" stroke="#505050" stroke-width="1.05"/>
<line x1="8" y1="634.85" x2="710.9" y2="634.85" stroke="#757575" stroke-width="1.7"/>
<line x1="23.6" y1="635" x2="23.6" y2="638.5" stroke="#626262" stroke-width="1"/>
<line x1="140.5" y1="635" x2="140.5" y2="638.5" stroke="#626262" stroke-width="1"/>
<line x1="259.3" y1="635" x2="259.3" y2="638.5" stroke="#626262" stroke-width="1"/>
<line x1="378.9" y1="635" x2="378.9" y2="638.5" stroke="#626262" stroke-width="1"/>
<line x1="496.5" y1="635" x2="496.5" y2="638.5" stroke="#626262" stroke-width="1"/>
<line x1="614.6" y1="635" x2="614.6" y2="638.5" stroke="#626262" stroke-width="1"/>
<line x1="710.5" y1="78.5" x2="714" y2="78.5" stroke="#626262" stroke-width="1"/>
<text x="718.5" y="83.5" style="font-family:'Liberation Sans',Arial,sans-serif;font-size:14px;fill:#4c4c4c">135.00</text>
<line x1="710.5" y1="142.0" x2="714" y2="142.0" stroke="#626262" stroke-width="1"/>
<text x="718.5" y="147.0" style="font-family:'Liberation Sans',Arial,sans-serif;font-size:14px;fill:#4c4c4c">125.00</text>
<line x1="710.5" y1="197.3" x2="714" y2="197.3" stroke="#626262" stroke-width="1"/>
<text x="718.5" y="202.3" style="font-family:'Liberation Sans',Arial,sans-serif;font-size:14px;fill:#4c4c4c">117.00</text>
<line x1="710.5" y1="256.8" x2="714" y2="256.8" stroke="#626262" stroke-width="1"/>
<text x="718.5" y="261.8" style="font-family:'Liberation Sans',Arial,sans-serif;font-size:14px;fill:#4c4c4c">109.00</text>
<line x1="710.5" y1="296.0" x2="714" y2="296.0" stroke="#626262" stroke-width="1"/>
<text x="718.5" y="301.0" style="font-family:'Liberation Sans',Arial,sans-serif;font-size:14px;fill:#4c4c4c">104.00</text>
<line x1="710.5" y1="345.0" x2="714" y2="345.0" stroke="#626262" stroke-width="1"/>
<text x="718.5" y="350.0" style="font-family:'Liberation Sans',Arial,sans-serif;font-size:14px;fill:#4c4c4c">98.00</text>
<line x1="710.5" y1="379.6" x2="714" y2="379.6" stroke="#626262" stroke-width="1"/>
<text x="718.5" y="384.6" style="font-family:'Liberation Sans',Arial,sans-serif;font-size:14px;fill:#4c4c4c">94.00</text>
<line x1="710.5" y1="416.0" x2="714" y2="416.0" stroke="#626262" stroke-width="1"/>
<text x="718.5" y="421.0" style="font-family:'Liberation Sans',Arial,sans-serif;font-size:14px;fill:#4c4c4c">90.00</text>
<line x1="710.5" y1="453.8" x2="714" y2="453.8" stroke="#626262" stroke-width="1"/>
<text x="718.5" y="458.8" style="font-family:'Liberation Sans',Arial,sans-serif;font-size:14px;fill:#4c4c4c">86.00</text>
<line x1="710.5" y1="481.0" x2="714" y2="481.0" stroke="#626262" stroke-width="1"/>
<text x="718.5" y="486.0" style="font-family:'Liberation Sans',Arial,sans-serif;font-size:14px;fill:#4c4c4c">1.0000</text>
<line x1="710.5" y1="521.0" x2="714" y2="521.0" stroke="#626262" stroke-width="1"/>
<text x="718.5" y="526.0" style="font-family:'Liberation Sans',Arial,sans-serif;font-size:14px;fill:#4c4c4c">0.5000</text>
<line x1="710.5" y1="560.6" x2="714" y2="560.6" stroke="#626262" stroke-width="1"/>
<text x="718.5" y="565.6" style="font-family:'Liberation Sans',Arial,sans-serif;font-size:14px;fill:#4c4c4c">0.0000</text>
<line x1="710.5" y1="600.2" x2="714" y2="600.2" stroke="#626262" stroke-width="1"/>
<text x="718.5" y="605.2" style="font-family:'Liberation Sans',Arial,sans-serif;font-size:14px;fill:#4c4c4c">-0.5000</text>
<rect x="709.5" y="344" width="47.5" height="20" fill="#4169e1"/>
<line x1="710" y1="353.6" x2="713.5" y2="353.6" stroke="#fff" stroke-width="1"/>
<text x="718.5" y="359" style="font-family:'Liberation Sans',Arial,sans-serif;font-size:14px;fill:#fff">96.97</text>
<text x="23.4" y="653" text-anchor="middle" style="font-family:'Liberation Sans',Arial,sans-serif;font-size:14px;fill:#4c4c4c">11</text>
<text x="379" y="653" text-anchor="middle" style="font-family:'Liberation Sans',Arial,sans-serif;font-size:14px;fill:#4c4c4c;font-weight:bold;letter-spacing:0.6px">Mrz</text>
</svg>
<div class="t1">Published on Investing.com, 15/Mar/2022 - 8:07:37 GMT, Powered by TradingView.</div>
<div class="t2">WTI Öl, (CFD):T, 240</div>
<div class="logo"><b>Investing</b><span>.com</span></div>
<div class="dot"></div>
</body></html>
